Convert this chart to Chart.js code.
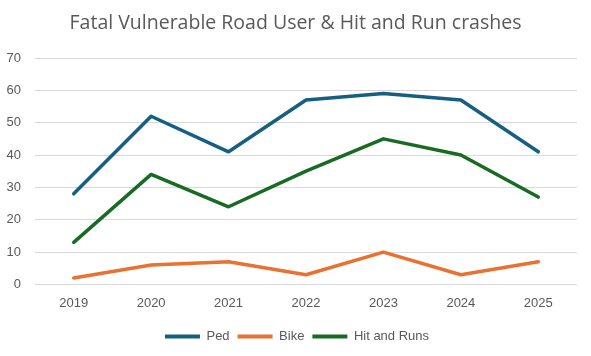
<!DOCTYPE html>
<html>
<head>
<meta charset="utf-8">
<script src="https://cdn.jsdelivr.net/npm/chart.js@4/dist/chart.umd.min.js"></script>
<style>
html,body{margin:0;padding:0;background:#fff;}
#wrap{width:591px;height:356px;position:relative;}
</style>
</head>
<body>
<div id="wrap"><canvas id="c" width="591" height="356"></canvas></div>
<script>
const categories = ["2019","2020","2021","2022","2023","2024","2025"];
const pedValues = [28, 52, 41, 57, 59, 57, 41];
const bikeValues = [2, 6, 7, 3, 10, 3, 7];
const hitRunValues = [13, 34, 24, 35, 45, 40, 27];
const seriesNames = ["Ped", "Bike", "Hit and Runs"];
const yTicks = [0, 10, 20, 30, 40, 50, 60, 70];

const colors = ["#156082", "#E97132", "#196B24"];
const values = [pedValues, bikeValues, hitRunValues];

const recenter = {
  id: 'recenter',
  afterLayout(chart) {
    if (chart.titleBlock) { chart.titleBlock.left = 0; chart.titleBlock.right = 591; }
    if (chart.legend) { chart.legend.left = 0; chart.legend.right = 594; }
  }
};

new Chart(document.getElementById('c'), {
  type: 'line',
  data: {
    labels: categories,
    datasets: seriesNames.map((n, i) => ({
      label: n,
      data: values[i],
      borderColor: colors[i],
      backgroundColor: colors[i],
      borderWidth: 3.5,
      pointRadius: 0,
      tension: 0,
      borderCapStyle: 'round',
      borderJoinStyle: 'round'
    }))
  },
  plugins: [recenter],
  options: {
    responsive: false,
    animation: false,
    devicePixelRatio: 1,
    layout: { padding: { left: 0, right: 14, top: 12, bottom: 3 } },
    plugins: {
      title: {
        display: true,
        text: 'Fatal Vulnerable Road User & Hit and Run crashes',
        color: '#595959',
        font: { family: 'Open Sans', size: 19.5, weight: 'normal' },
        padding: { top: 0, bottom: 22.6 }
      },
      legend: {
        position: 'bottom',
        labels: {
          color: '#595959',
          font: { family: 'Liberation Sans', size: 13 },
          boxWidth: 35,
          boxHeight: 4,
          padding: 8,
          generateLabels: (chart) => chart.data.datasets.map((d, i) => ({
            text: d.label,
            fillStyle: d.borderColor,
            strokeStyle: d.borderColor,
            lineWidth: 0,
            datasetIndex: i,
            fontColor: '#595959'
          }))
        }
      },
      tooltip: { enabled: false }
    },
    scales: {
      x: {
        offset: true,
        grid: { display: false, drawTicks: false },
        border: { display: false },
        ticks: { color: '#595959', font: { family: 'Liberation Sans', size: 13 }, padding: 11 }
      },
      y: {
        min: 0,
        max: 70,
        afterBuildTicks: (s) => { s.ticks = yTicks.map(v => ({ value: v })); },
        afterFit: (s) => { s.width = 35; },
        grid: { color: '#d9d9d9', lineWidth: 1, drawTicks: false },
        border: { display: false },
        ticks: { color: '#595959', font: { family: 'Liberation Sans', size: 13 }, padding: 14 }
      }
    }
  }
});
</script>
</body>
</html>
